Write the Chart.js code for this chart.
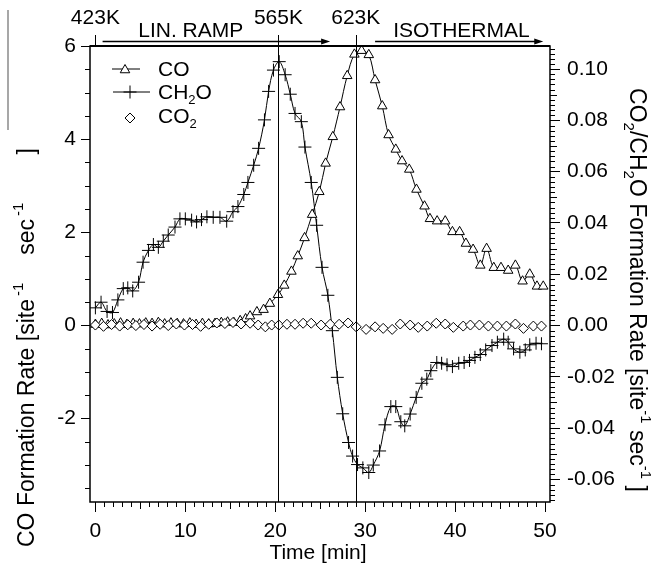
<!DOCTYPE html>
<html>
<head>
<meta charset="utf-8">
<script src="https://cdn.jsdelivr.net/npm/chart.js@4/dist/chart.umd.min.js"></script>
<style>
    html, body { margin: 0; padding: 0; background: #fff; }
    canvas { display: block; }
</style>
</head>
<body>
<canvas id="rateChart" width="657" height="570"></canvas>
<script>
// CO formation rate (left axis, site^-1 sec^-1)
const coTime = [0, 0.7, 1.4, 2.1, 2.8, 3.5, 4.2, 4.9, 5.6, 6.3, 7.0, 7.7, 8.4, 9.1, 9.8, 10.5, 11.2, 11.9, 12.6, 13.3, 14.0, 14.7, 15.4, 16.1,
    16.7, 17.2, 17.96, 18.7, 19.4, 20.3, 21.0, 21.8, 22.5, 23.26, 24.1, 24.9, 25.6, 26.4, 27.2, 28.0, 28.8, 29.6, 30.4, 31.1,
    31.9, 32.6, 33.4, 34.1, 34.9, 35.7, 36.6, 37.2, 38.0, 38.9, 39.7, 40.5, 41.2, 42.0, 42.8, 43.5, 44.3, 45.1, 45.9, 46.7,
    47.5, 48.3, 49.1, 49.8];
const coRate = [0.02, 0.04, 0.01, 0.03, 0.05, 0.02, 0.04, 0.03, 0.05, 0.04, 0.06, 0.03, 0.05, 0.04, 0.03, 0.05, 0.02, 0.04, 0.03, 0.04, 0.06, 0.07, 0.06, 0.10,
    0.14, 0.20, 0.29, 0.34, 0.47, 0.66, 0.86, 1.16, 1.49, 1.88, 2.38, 2.87, 3.48, 4.05, 4.69, 5.36, 5.82, 5.90, 5.81, 5.27,
    4.71, 4.09, 3.78, 3.53, 3.35, 2.92, 2.56, 2.29, 2.24, 2.24, 2.01, 2.01, 1.76, 1.63, 1.29, 1.65, 1.24, 1.24, 1.18, 1.29,
    0.95, 1.10, 0.84, 0.84];

// CH2O formation rate (right axis)
const ch2oTime = [0, 0.63, 1.3, 1.9, 2.5, 3.1, 3.6, 4.15, 4.8, 5.3, 5.9, 6.45, 7.0, 7.55, 8.1, 8.85, 9.4, 10.0, 10.7, 11.25,
    11.8, 12.4, 13.1, 13.85, 14.6, 15.3, 15.85, 16.5, 16.96, 17.6, 18.15, 18.8, 19.26, 19.8, 20.44, 21.1, 21.67, 22.2, 22.9, 23.3,
    24.0, 24.6, 25.2, 25.85, 26.35, 26.9, 27.5, 28.15, 28.6, 29.15, 29.74, 30.4, 30.9, 31.6, 32.2, 32.85, 33.4, 33.96, 34.4, 35.0,
    35.67, 36.3, 36.85, 37.3, 37.96, 38.5, 39.1, 39.7, 40.4, 41.0, 41.6, 42.2, 42.8, 43.4, 44.1, 44.7, 45.4, 45.9, 46.5, 47.2,
    47.8, 48.3, 49.0, 49.6];
const ch2oRate = [0.0069, 0.0091, 0.0055, 0.0051, 0.0100, 0.0144, 0.0147, 0.0135, 0.0169, 0.0247, 0.0293, 0.0316, 0.0305, 0.0329, 0.0353, 0.0384, 0.0416, 0.0416, 0.0411, 0.0404,
    0.0413, 0.0424, 0.0422, 0.0422, 0.0407, 0.0444, 0.0464, 0.0511, 0.0558, 0.0625, 0.0691, 0.0802, 0.0913, 0.0996, 0.1029, 0.0978, 0.0902, 0.0827, 0.0795, 0.0696,
    0.0558, 0.0391, 0.0227, 0.0118, -0.0020, -0.0202, -0.0344, -0.0456, -0.0509, -0.0542, -0.0555, -0.0573, -0.0544, -0.0489, -0.0387, -0.0316, -0.0316, -0.0375, -0.0391, -0.0345,
    -0.0280, -0.0225, -0.0209, -0.0176, -0.0144, -0.0147, -0.0153, -0.0160, -0.0147, -0.0144, -0.0136, -0.0124, -0.0113, -0.0095, -0.0078, -0.0065, -0.0053, -0.0065, -0.0091, -0.0104,
    -0.0095, -0.0075, -0.0069, -0.0071];

// CO2 formation rate (right axis)
const co2Time = [0, 0.9, 1.8, 2.7, 3.6, 4.5, 5.4, 6.3, 7.2, 8.1, 9.0, 9.9, 10.8, 11.7, 12.6, 13.5, 14.4, 15.3, 16.2,
    17.2, 18.1, 18.9, 19.6, 20.4, 21.3, 22.2, 23.1, 24.0, 25.1, 26.1, 27.1, 28.1, 29.0, 30.1, 31.1, 32.0, 33.0, 33.9, 35.0,
    35.9, 36.9, 37.9, 38.9, 39.8, 40.9, 41.7, 42.7, 43.7, 44.7, 45.7, 46.7, 47.6, 48.7, 49.6];
const co2Rate = [0.0002, -0.0003, 0.0004, -0.0002, 0.0003, 0.0000, 0.0004, -0.0002, 0.0005, 0.0000, 0.0006, 0.0002, 0.0004, -0.0003, 0.0005, 0.0010, 0.0008, 0.0012, 0.0006,
    0.0009, 0.0002, -0.0005, 0.0002, 0.0002, 0.0005, 0.0005, 0.0009, 0.0009, 0.0002, 0.0005, 0.0005, 0.0010, -0.0005, -0.0015, -0.0005, -0.0011, -0.0015, 0.0006, 0.0002,
    -0.0007, -0.0002, 0.0009, 0.0006, -0.0007, -0.0002, 0.0002, 0.0002, -0.0002, -0.0002, -0.0002, 0.0006, -0.0011, -0.0002, -0.0002];

// axis ticks
const xTicks = [0, 10, 20, 30, 40, 50];
const yLeftTicks = [-2, 0, 2, 4, 6];
const yRightTicks = [-0.06, -0.04, -0.02, 0.00, 0.02, 0.04, 0.06, 0.08, 0.10];

// temperature marks and phases along the top
const markTime = [0, 20.35, 28.95];
const markLabel = ['423K', '565K', '623K'];
const phaseStart = [0.8, 31.1];
const phaseEnd = [26.1, 49.8];
const phaseLabelAt = [10.6, 40.7];
const phaseLabel = ['LIN. RAMP', 'ISOTHERMAL'];

const FONT = '"Liberation Sans", Arial, sans-serif';
const TXT = 21;
const TITLE = 23;

function zip(xs, ys) {
    return xs.map((x, i) => ({ x: x, y: ys[i] }));
}

// draw a run of plain / sub / sup pieces starting at (x, y); p.gap adds space before a piece
function richRun(ctx, parts, size, x, y) {
    const small = Math.round(size * 0.64);
    ctx.textBaseline = 'middle';
    ctx.textAlign = 'left';
    parts.forEach(p => {
        x += p.gap || 0;
        ctx.font = (p.sub || p.sup ? small : size) + 'px ' + FONT;
        let dy = 0;
        if (p.sub) dy = size * 0.35;
        if (p.sup) dy = -size * 0.38;
        ctx.fillText(p.t, x, y + dy);
        x += ctx.measureText(p.t).width;
    });
    return x;
}

function runWidth(ctx, parts, size) {
    const small = Math.round(size * 0.64);
    let w = 0;
    parts.forEach(p => {
        ctx.font = (p.sub || p.sup ? small : size) + 'px ' + FONT;
        w += (p.gap || 0) + ctx.measureText(p.t).width;
    });
    return w;
}

function marker(ctx, style, x, y) {
    ctx.beginPath();
    if (style === 'triangle') {
        const r = 5.5;
        ctx.moveTo(x, y - r);
        ctx.lineTo(x + r * 0.866, y + r * 0.5);
        ctx.lineTo(x - r * 0.866, y + r * 0.5);
        ctx.closePath();
        ctx.fillStyle = '#fff';
        ctx.fill();
    } else if (style === 'cross') {
        const r = 6.5;
        ctx.moveTo(x - r, y); ctx.lineTo(x + r, y);
        ctx.moveTo(x, y - r); ctx.lineTo(x, y + r);
    } else {
        const r = 5;
        ctx.moveTo(x, y - r); ctx.lineTo(x + r, y); ctx.lineTo(x, y + r); ctx.lineTo(x - r, y);
        ctx.closePath();
        ctx.fillStyle = '#fff';
        ctx.fill();
    }
    ctx.stroke();
}

const decorPlugin = {
    id: 'decor',
    afterDraw(chart) {
        const ctx = chart.ctx;
        const a = chart.chartArea;
        const xs = chart.scales.x, yl = chart.scales.y, yr = chart.scales.y1;
        ctx.save();
        ctx.strokeStyle = '#000';
        ctx.fillStyle = '#000';

        // frame
        ctx.lineWidth = 1.5;
        ctx.strokeRect(a.left, a.top, a.right - a.left, a.bottom - a.top);
        ctx.lineWidth = 2;
        ctx.beginPath();
        ctx.moveTo(a.left, a.top); ctx.lineTo(a.right, a.top);
        ctx.stroke();

        // minor ticks
        ctx.lineWidth = 1;
        ctx.beginPath();
        for (let t = 0; t <= 50; t++) {
            if (t % 10 === 0) continue;
            const px = Math.round(xs.getPixelForValue(t)) + 0.5;
            const len = t % 5 === 0 ? 7 : 5;
            ctx.moveTo(px, a.bottom); ctx.lineTo(px, a.bottom + len);
        }
        for (let k = -7; k <= 12; k++) {
            if (k % 4 === 0) continue;
            const py = Math.round(yl.getPixelForValue(k * 0.5)) + 0.5;
            ctx.moveTo(a.left, py); ctx.lineTo(a.left - 5, py);
        }
        for (let k = -34; k <= 54; k++) {
            if (k % 10 === 0) continue;
            const py = Math.round(yr.getPixelForValue(k * 0.002)) + 0.5;
            const len = k % 5 === 0 ? 7 : 5;
            ctx.moveTo(a.right, py); ctx.lineTo(a.right + len, py);
        }
        ctx.stroke();

        // temperature marks
        ctx.lineWidth = 1;
        ctx.beginPath();
        markTime.forEach((t, i) => {
            const px = Math.round(xs.getPixelForValue(t)) + 0.5;
            ctx.moveTo(px, a.top - 11);
            ctx.lineTo(px, i === 0 ? a.top : a.bottom);
        });
        ctx.stroke();
        ctx.font = TXT + 'px ' + FONT;
        ctx.textAlign = 'center';
        ctx.textBaseline = 'middle';
        markTime.forEach((t, i) => {
            ctx.fillText(markLabel[i], xs.getPixelForValue(t), 18);
        });

        // phase arrows
        const ay = a.top - 4.5;
        phaseStart.forEach((t0, i) => {
            const x0 = xs.getPixelForValue(t0), x1 = xs.getPixelForValue(phaseEnd[i]);
            ctx.lineWidth = 1.5;
            ctx.beginPath();
            ctx.moveTo(x0, ay); ctx.lineTo(x1 - 6, ay);
            ctx.stroke();
            ctx.beginPath();
            ctx.moveTo(x1, ay); ctx.lineTo(x1 - 9, ay - 3); ctx.lineTo(x1 - 9, ay + 3);
            ctx.closePath();
            ctx.fill();
            ctx.textAlign = 'center';
            ctx.font = TXT + 'px ' + FONT;
            ctx.fillText(phaseLabel[i], xs.getPixelForValue(phaseLabelAt[i]), 31);
        });

        // legend
        ctx.lineWidth = 1;
        ctx.beginPath();
        ctx.moveTo(112, 69); ctx.lineTo(140, 69);
        ctx.moveTo(113, 92); ctx.lineTo(150, 92);
        ctx.stroke();
        marker(ctx, 'triangle', 125, 70);
        marker(ctx, 'cross', 130, 92);
        marker(ctx, 'diamond', 130, 118);
        ctx.fillStyle = '#000';
        richRun(ctx, [{ t: 'CO' }], TXT, 158, 70);
        richRun(ctx, [{ t: 'CH' }, { t: '2', sub: true }, { t: 'O' }], TXT, 158, 93);
        richRun(ctx, [{ t: 'CO' }, { t: '2', sub: true }], TXT, 158, 117);

        // x title
        ctx.font = TXT + 'px ' + FONT;
        ctx.textAlign = 'center';
        ctx.fillText('Time [min]', a.left + (a.right - a.left) / 2 - 2, 553);

        // left title, read bottom to top, starting near the foot of the figure
        ctx.save();
        ctx.translate(28, 547);
        ctx.rotate(-Math.PI / 2);
        richRun(ctx, [{ t: 'CO Formation Rate [site' }, { t: '-1', sup: true, gap: 3 }, { t: 'sec', gap: 28 },
            { t: '-1', sup: true, gap: 3 }, { t: ']', gap: 48 }], TITLE, 0, 0);
        ctx.restore();

        // right title, read top to bottom
        const rightParts = [{ t: 'CO' }, { t: '2', sub: true }, { t: '/CH' }, { t: '2', sub: true }, { t: 'O Formation Rate [site' },
            { t: '-1', sup: true }, { t: ' sec' }, { t: '-1', sup: true }, { t: ' ]' }];
        ctx.save();
        ctx.translate(636, 290);
        ctx.rotate(Math.PI / 2);
        richRun(ctx, rightParts, TITLE, -runWidth(ctx, rightParts, TITLE) / 2, 0);
        ctx.restore();

        // stray bar at the far left of the figure
        ctx.strokeStyle = '#8a8a8a';
        ctx.lineWidth = 1.5;
        ctx.beginPath();
        ctx.moveTo(8, 10); ctx.lineTo(8, 130);
        ctx.stroke();

        ctx.restore();
    }
};

Chart.defaults.font.family = FONT;
Chart.defaults.font.size = TXT;
Chart.defaults.color = '#000';

new Chart(document.getElementById('rateChart').getContext('2d'), {
    type: 'scatter',
    data: {
        datasets: [
            {
                label: 'CO2',
                data: zip(co2Time, co2Rate),
                yAxisID: 'y1',
                showLine: false,
                pointStyle: 'rectRot',
                pointRadius: 5,
                pointBorderWidth: 1,
                borderColor: '#000',
                backgroundColor: '#fff'
            },
            {
                label: 'CO',
                data: zip(coTime, coRate),
                yAxisID: 'y',
                showLine: true,
                tension: 0.35,
                borderWidth: 1,
                pointStyle: 'triangle',
                pointRadius: 5.5,
                pointBorderWidth: 1,
                borderColor: '#000',
                backgroundColor: '#fff'
            },
            {
                label: 'CH2O',
                data: zip(ch2oTime, ch2oRate),
                yAxisID: 'y1',
                showLine: true,
                tension: 0.35,
                borderWidth: 1,
                pointStyle: 'cross',
                pointRadius: 6.5,
                pointBorderWidth: 1,
                borderColor: '#000',
                backgroundColor: '#000'
            }
        ]
    },
    options: {
        responsive: false,
        animation: false,
        events: [],
        layout: { padding: { top: 46, left: 0, right: 0, bottom: 0 } },
        plugins: { legend: { display: false }, tooltip: { enabled: false } },
        scales: {
            x: {
                type: 'linear',
                min: -0.6,
                max: 50.55,
                afterBuildTicks: (scale) => { scale.ticks = xTicks.map(v => ({ value: v })); },
                afterFit: (scale) => { scale.height = 68; },
                ticks: { padding: 7, maxRotation: 0, callback: (v) => String(v) },
                grid: { drawOnChartArea: false, tickLength: 10, color: '#000', tickWidth: 1 },
                border: { display: false }
            },
            y: {
                position: 'left',
                min: -3.79,
                max: 6,
                afterBuildTicks: (scale) => { scale.ticks = yLeftTicks.map(v => ({ value: v })); },
                afterFit: (scale) => { scale.width = 90; },
                ticks: { padding: 5, callback: (v) => String(v) },
                grid: { drawOnChartArea: false, tickLength: 9, color: '#000', tickWidth: 1 },
                border: { display: false }
            },
            y1: {
                position: 'right',
                min: -0.0688,
                max: 0.109,
                afterBuildTicks: (scale) => { scale.ticks = yRightTicks.map(v => ({ value: v })); },
                afterFit: (scale) => { scale.width = 107; },
                ticks: { padding: 7, callback: (v) => v.toFixed(2) },
                grid: { drawOnChartArea: false, tickLength: 10, color: '#000', tickWidth: 1 },
                border: { display: false }
            }
        }
    },
    plugins: [decorPlugin]
});
</script>
</body>
</html>
